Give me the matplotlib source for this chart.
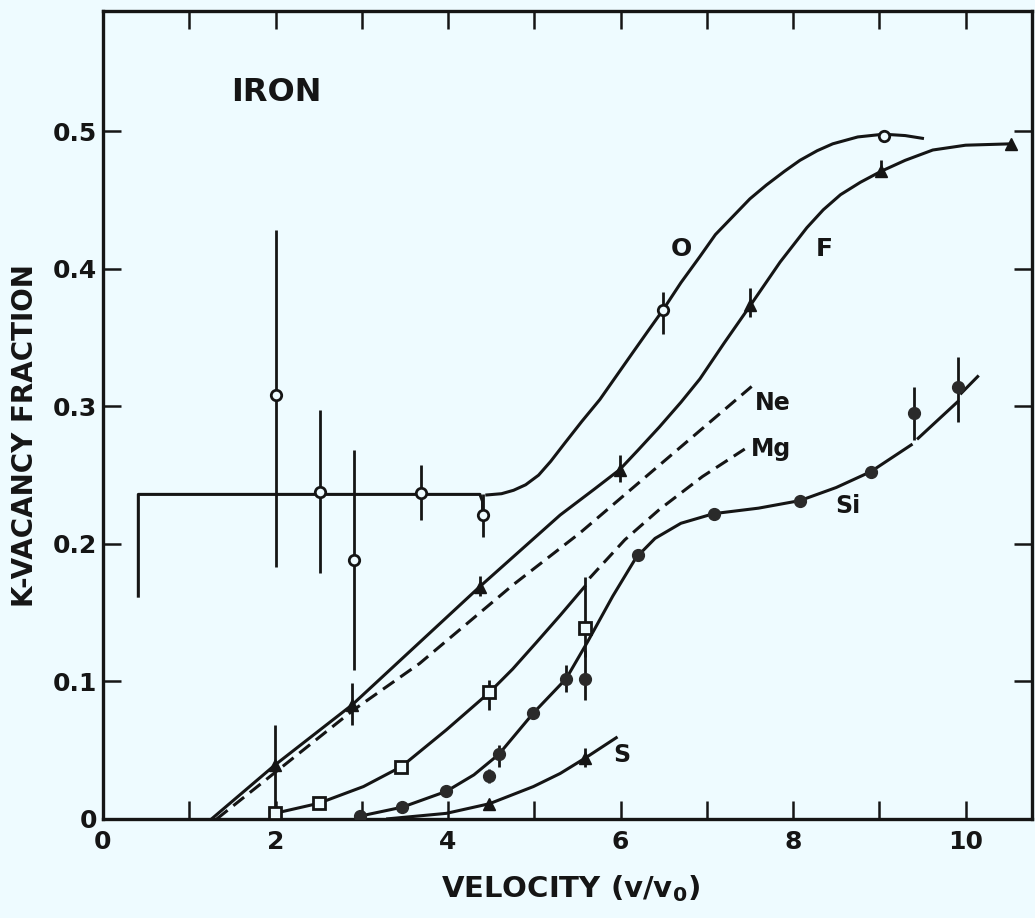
import matplotlib.pyplot as plt
from matplotlib.ticker import FixedLocator

plt.rcParams['font.family'] = ['DejaVu Sans']
plt.rcParams['font.weight'] = 'bold'

bg = '#eefbff'
ink = '#151515'

# ---- O (open circles) ----
o_x = [2.01, 2.515, 2.91, 3.69, 4.40, 6.49, 9.05]
o_y = [0.308, 0.238, 0.188, 0.237, 0.221, 0.370, 0.497]
o_lo = [0.183, 0.1785, 0.108, 0.2175, 0.205, 0.353, 0.497]
o_hi = [0.428, 0.2975, 0.268, 0.2575, 0.236, 0.383, 0.497]
o_step_x = [0.41, 0.41, 4.37, 4.40, 4.40]
o_step_y = [0.162, 0.236, 0.236, 0.231, 0.225]
o_curve_x = [4.45, 4.62, 4.76, 4.90, 5.05, 5.19, 5.35, 5.55, 5.76, 5.95, 6.14, 6.32, 6.49, 6.70,
             6.92, 7.10, 7.30, 7.50, 7.69, 7.90, 8.08, 8.28, 8.46, 8.75, 9.05, 9.30, 9.50]
o_curve_y = [0.2356, 0.2365, 0.239, 0.243, 0.250, 0.260, 0.273, 0.289, 0.305, 0.322, 0.339, 0.355,
             0.370, 0.390, 0.409, 0.425, 0.438, 0.451, 0.461, 0.471, 0.479, 0.486, 0.491, 0.496,
             0.498, 0.497, 0.495]

# ---- F (triangles) ----
f_x = [1.99, 2.89, 4.37, 5.99, 7.50, 9.02, 10.53]
f_y = [0.039, 0.083, 0.169, 0.254, 0.374, 0.471, 0.491]
f_lo = [0.004, 0.068, 0.162, 0.245, 0.365, 0.469, 0.491]
f_hi = [0.068, 0.099, 0.177, 0.2645, 0.386, 0.479, 0.491]
f_curve_x = [1.26, 1.99, 2.89, 4.37, 5.30, 5.70, 5.99, 6.20, 6.45, 6.70, 6.92, 7.20, 7.50, 7.85,
             8.16, 8.35, 8.55, 8.78, 9.02, 9.30, 9.62, 10.0, 10.53]
f_curve_y = [0.0, 0.039, 0.083, 0.169, 0.221, 0.240, 0.254, 0.268, 0.285, 0.303, 0.320, 0.346,
             0.373, 0.405, 0.430, 0.443, 0.454, 0.463, 0.471, 0.479, 0.4865, 0.490, 0.491]

# ---- Ne (dashed only) ----
ne_x = [1.32, 2.0, 2.9, 3.67, 4.75, 5.53, 7.52]
ne_y = [0.0, 0.034, 0.079, 0.113, 0.170, 0.208, 0.3145]

# ---- Mg (open squares, solid then dashed) ----
mg_x = [1.99, 2.50, 3.46, 4.48, 5.585]
mg_y = [0.004, 0.0113, 0.038, 0.092, 0.1386]
mg_lo = [0.004, 0.0113, 0.038, 0.079, 0.118]
mg_hi = [0.004, 0.0113, 0.038, 0.101, 0.176]
mg_curve_x = [1.99, 2.50, 3.02, 3.46, 3.98, 4.48, 4.75, 5.02, 5.30, 5.585]
mg_curve_y = [0.004, 0.0113, 0.0235, 0.038, 0.0647, 0.092, 0.109, 0.128, 0.148, 0.169]
mg_dash_x = [5.64, 6.05, 6.45, 6.95, 7.44]
mg_dash_y = [0.175, 0.203, 0.225, 0.249, 0.269]

# ---- Si (filled circles) ----
si_x = [2.98, 3.47, 3.98, 4.48, 4.59, 4.99, 5.37, 5.585, 6.20, 7.08, 8.08, 8.90, 9.40, 9.91]
si_y = [0.002, 0.0085, 0.020, 0.031, 0.047, 0.077, 0.102, 0.102, 0.192, 0.222, 0.2315, 0.2525, 0.2955, 0.314]
si_lo = [0.002, 0.0085, 0.020, 0.026, 0.038, 0.077, 0.0925, 0.0865, 0.192, 0.222, 0.2315, 0.2525, 0.2756, 0.289]
si_hi = [0.002, 0.0085, 0.020, 0.036, 0.054, 0.077, 0.112, 0.123, 0.192, 0.222, 0.2315, 0.2525, 0.314, 0.336]
si_curve_x = [2.98, 3.47, 3.98, 4.30, 4.59, 4.99, 5.37, 5.62, 5.91, 6.18, 6.40, 6.70, 7.08, 7.60,
              8.08, 8.50, 8.90, 9.37]
si_curve_y = [0.002, 0.0085, 0.020, 0.032, 0.047, 0.077, 0.102, 0.129, 0.162, 0.190, 0.204, 0.215,
              0.222, 0.226, 0.2315, 0.241, 0.2525, 0.272]
si_tail_x = [9.45, 9.91]
si_tail_y = [0.2768, 0.3035]
si_hook_x = [9.95, 10.14]
si_hook_y = [0.3096, 0.3217]

# ---- S (small triangles) ----
s_x = [4.48, 5.585]
s_y = [0.011, 0.044]
s_lo = [0.011, 0.038]
s_hi = [0.011, 0.0516]
s_curve_x = [3.30, 3.98, 4.48, 4.99, 5.30, 5.585, 5.95]
s_curve_y = [0.0, 0.004, 0.011, 0.0235, 0.033, 0.044, 0.059]

xticks = [0, 2, 4, 6, 8, 10]
xminor = [1, 3, 5, 7, 9]
yticks = [0, 0.1, 0.2, 0.3, 0.4, 0.5]
ylabels = ['0', '0.1', '0.2', '0.3', '0.4', '0.5']

fig = plt.figure(figsize=(10.35, 9.18), dpi=100)
fig.set_facecolor(bg)
ax = fig.add_axes([0.0995, 0.108, 0.8976, 0.880])
ax.set_facecolor(bg)

lw = 2.2
dash = (0, (4.5, 2.4))
ax.plot(o_step_x, o_step_y, color=ink, lw=lw, solid_joinstyle='round')
ax.plot(o_curve_x, o_curve_y, color=ink, lw=lw)
ax.plot(f_curve_x, f_curve_y, color=ink, lw=lw)
ax.plot(ne_x, ne_y, color=ink, lw=lw, linestyle=dash)
ax.plot(mg_curve_x, mg_curve_y, color=ink, lw=lw)
ax.plot(mg_dash_x, mg_dash_y, color=ink, lw=lw, linestyle=dash)
ax.plot(si_curve_x, si_curve_y, color=ink, lw=lw)
ax.plot(si_tail_x, si_tail_y, color=ink, lw=lw)
ax.plot(si_hook_x, si_hook_y, color=ink, lw=lw)
ax.plot(s_curve_x, s_curve_y, color=ink, lw=lw)

# error bars
for xs, lo, hi in [(o_x, o_lo, o_hi), (f_x, f_lo, f_hi), (mg_x, mg_lo, mg_hi),
                   (si_x, si_lo, si_hi), (s_x, s_lo, s_hi)]:
    ax.vlines(xs, lo, hi, color=ink, lw=2.0, zorder=3)

ax.plot(o_x, o_y, 'o', ms=7.5, mfc=bg, mec=ink, mew=2, zorder=5)
ax.plot(f_x, f_y, '^', ms=9, color=ink, zorder=5)
ax.plot(mg_x, mg_y, 's', ms=8.5, mfc=bg, mec=ink, mew=2, zorder=5)
ax.plot(si_x, si_y, 'o', ms=8.5, color='#2a2a2a', zorder=5)
ax.plot(s_x, s_y, '^', ms=8, color=ink, zorder=5)

# curve labels
ax.text(6.70, 0.4145, 'O', fontsize=18, ha='center', va='center', color=ink)
ax.text(8.36, 0.4145, 'F', fontsize=18, ha='center', va='center', color=ink)
ax.text(7.76, 0.3025, 'Ne', fontsize=17, ha='center', va='center', color=ink)
ax.text(7.74, 0.269, 'Mg', fontsize=17, ha='center', va='center', color=ink)
ax.text(8.64, 0.2277, 'Si', fontsize=17, ha='center', va='center', color=ink)
ax.text(6.01, 0.0465, 'S', fontsize=17, ha='center', va='center', color=ink)
ax.text(1.49, 0.528, 'IRON', fontsize=23, ha='left', va='center', color=ink)

ax.set_xlim(0, 10.77)
ax.set_ylim(0, 0.5876)
ax.xaxis.set_major_locator(FixedLocator(xticks))
ax.xaxis.set_minor_locator(FixedLocator(xminor))
ax.set_xticklabels([str(t) for t in xticks], fontsize=18, fontweight='bold')
ax.set_yticks(yticks)
ax.set_yticklabels(ylabels, fontsize=18, fontweight='bold')
ax.tick_params(which='both', direction='in', top=True, right=True,
               length=13, width=1.8, color=ink, labelcolor=ink)
ax.tick_params(axis='x', pad=8)
ax.tick_params(axis='y', pad=4)
for sp in ax.spines.values():
    sp.set_linewidth(2.4)
    sp.set_color(ink)

fig.text(0.024, 0.526, 'K-VACANCY FRACTION', rotation=90, fontsize=20,
         ha='center', va='center', color=ink)
fig.text(0.551, 0.0316, r'VELOCITY (v/v$_\mathbf{0}$)', fontsize=21,
         ha='center', va='center', color=ink)

fig.savefig('out.png', dpi=100, facecolor=bg)
